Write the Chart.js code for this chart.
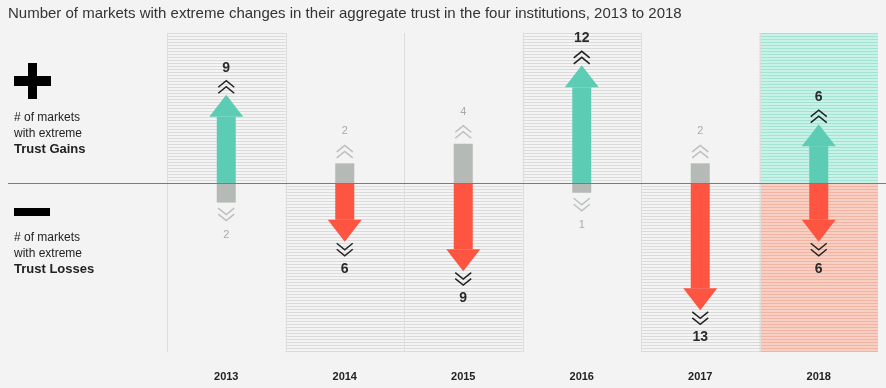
<!DOCTYPE html>
<html>
<head>
<meta charset="utf-8">
<script src="https://cdn.jsdelivr.net/npm/chart.js@4.4.1/dist/chart.umd.min.js"></script>
<style>
html, body { margin: 0; padding: 0; background: #f2f3f2; }
#wrap { position: relative; width: 886px; height: 388px; font-family: "Liberation Sans", Arial, Helvetica, sans-serif; }
#trustChart { position: absolute; left: 0; top: 0; }
.title { position: absolute; left: 8px; top: 4px; font-size: 15px; color: #333; white-space: nowrap; }
.bar { position: absolute; background: #000; }
.side { position: absolute; left: 14px; font-size: 12px; line-height: 16px; color: #222; }
.side b { font-size: 13px; }
</style>
</head>
<body>
<div id="wrap">
    <canvas id="trustChart" width="886" height="388"></canvas>
    <div class="title">Number of markets with extreme changes in their aggregate trust in the four institutions, 2013 to 2018</div>
    <div class="bar" style="left:14px;top:76px;width:37px;height:10px"></div>
    <div class="bar" style="left:28px;top:63px;width:9px;height:36px"></div>
    <div class="side" style="top:109px"># of markets<br>with extreme<br><b>Trust Gains</b></div>
    <div class="bar" style="left:14px;top:208px;width:36px;height:8px"></div>
    <div class="side" style="top:229px"># of markets<br>with extreme<br><b>Trust Losses</b></div>
</div>
<script>
const years = ['2013', '2014', '2015', '2016', '2017', '2018'];
const gains = [9, 2, 4, 12, 2, 6];
const losses = [2, 6, 9, 1, 13, 6];

const colors = {
    gain: '#5ccdb4',
    loss: '#fe5543',
    minor: '#b5bab6'
};

function stripes(base, line) {
    const c = document.createElement('canvas');
    c.width = 4;
    c.height = 3;
    const g = c.getContext('2d');
    g.fillStyle = base;
    g.fillRect(0, 0, 4, 3);
    g.fillStyle = line;
    g.fillRect(0, 0, 4, 1);
    return g.createPattern(c, 'repeat');
}

const hatchGray = stripes('#f4f4f4', '#dadbda');
const hatchTeal = stripes('#c8f1e7', '#a2e4d3');
const hatchRed = stripes('#f8d0c3', '#f2b4a2');

function chevrons(ctx, x, near, dir, color) {
    // dir -1 draws upward-pointing chevrons stacked above "near", +1 downward below it
    ctx.save();
    ctx.strokeStyle = color;
    ctx.lineWidth = 1.5;
    for (let k = 0; k < 2; k++) {
        const legs = near + dir * k * 6;
        const apex = legs + dir * 6.5;
        ctx.beginPath();
        ctx.moveTo(x - 8, legs);
        ctx.lineTo(x, apex);
        ctx.lineTo(x + 8, legs);
        ctx.stroke();
    }
    ctx.restore();
}

function label(ctx, text, x, y, major) {
    ctx.save();
    ctx.font = major ? 'bold 14px "Liberation Sans", Arial' : '11px "Liberation Sans", Arial';
    ctx.fillStyle = major ? '#2a2a2a' : '#a9abaa';
    ctx.textAlign = 'center';
    ctx.textBaseline = 'middle';
    ctx.fillText(text, x, y);
    ctx.restore();
}

const headH = 22;
const headW = 17;

function drawMark(ctx, el, value, major, up) {
    const x = el.x, tip = el.y, base = el.base, half = 9.5;
    const dir = up ? -1 : 1;
    if (major) {
        const neck = tip - dir * headH;
        ctx.fillStyle = up ? colors.gain : colors.loss;
        ctx.fillRect(x - half, Math.min(base, neck), half * 2, Math.abs(neck - base));
        ctx.beginPath();
        ctx.moveTo(x - headW, neck);
        ctx.lineTo(x + headW, neck);
        ctx.lineTo(x, tip);
        ctx.closePath();
        ctx.fill();
        chevrons(ctx, x, tip + dir * 1.5, dir, '#222');
        label(ctx, value, x, tip + dir * 27, true);
    } else {
        ctx.fillStyle = colors.minor;
        ctx.fillRect(x - half, Math.min(base, tip), half * 2, Math.abs(tip - base));
        chevrons(ctx, x, tip + dir * 5.5, dir, '#bdbfbe');
        label(ctx, value, x, tip + dir * 32, false);
    }
}

const trustPlugin = {
    id: 'trustArrows',
    beforeDatasetsDraw(chart) {
        const ctx = chart.ctx;
        const area = chart.chartArea;
        const xs = chart.scales.x;
        const zero = chart.scales.y.getPixelForValue(0);
        const step = xs.width / years.length;
        ctx.save();
        years.forEach((y, i) => {
            const left = xs.getPixelForValue(i) - step / 2;
            if (gains[i] === losses[i]) {
                ctx.fillStyle = hatchTeal;
                ctx.fillRect(left, area.top, step, zero - area.top);
                ctx.fillStyle = hatchRed;
                ctx.fillRect(left, zero, step, area.bottom - zero);
            } else if (gains[i] > losses[i]) {
                ctx.fillStyle = hatchGray;
                ctx.fillRect(left, area.top, step, zero - area.top);
            } else {
                ctx.fillStyle = hatchGray;
                ctx.fillRect(left, zero, step, area.bottom - zero);
            }
        });
        ctx.strokeStyle = '#dcdddc';
        ctx.lineWidth = 1;
        for (let i = 0; i < years.length; i++) {
            const bx = Math.round(xs.getPixelForValue(i) - step / 2) + 0.5;
            ctx.beginPath();
            ctx.moveTo(bx, area.top);
            ctx.lineTo(bx, area.bottom);
            ctx.stroke();
        }
        ctx.restore();
    },
    beforeDatasetDraw() {
        return false;
    },
    afterDatasetsDraw(chart) {
        const ctx = chart.ctx;
        const gainMeta = chart.getDatasetMeta(0);
        const lossMeta = chart.getDatasetMeta(1);
        years.forEach((y, i) => {
            drawMark(ctx, gainMeta.data[i], gains[i], gains[i] >= losses[i], true);
            drawMark(ctx, lossMeta.data[i], losses[i], losses[i] >= gains[i], false);
        });
        const zero = Math.round(chart.scales.y.getPixelForValue(0)) + 0.5;
        ctx.save();
        ctx.strokeStyle = '#7a7c7b';
        ctx.lineWidth = 1.2;
        ctx.beginPath();
        ctx.moveTo(8, zero);
        ctx.lineTo(chart.width, zero);
        ctx.stroke();
        ctx.restore();
    }
};

new Chart(document.getElementById('trustChart'), {
    type: 'bar',
    data: {
        labels: years,
        datasets: [
            { label: 'Trust Gains', data: gains, backgroundColor: colors.gain, barThickness: 19 },
            { label: 'Trust Losses', data: losses.map(v => -v), backgroundColor: colors.loss, barThickness: 19 }
        ]
    },
    options: {
        responsive: false,
        animation: false,
        layout: {
            padding: { top: 33, left: 167, right: 8, bottom: 5 }
        },
        plugins: {
            legend: { display: false },
            tooltip: { enabled: false }
        },
        scales: {
            x: {
                stacked: true,
                grid: { display: false, drawTicks: false },
                border: { display: false },
                afterFit: (scale) => { scale.height = 31; },
                ticks: {
                    padding: 18,
                    color: '#222',
                    font: { family: '"Liberation Sans", Arial', size: 11, weight: 'bold' }
                }
            },
            y: {
                stacked: true,
                display: false,
                min: -17.25,
                max: 15.3
            }
        }
    },
    plugins: [trustPlugin]
});
</script>
</body>
</html>
